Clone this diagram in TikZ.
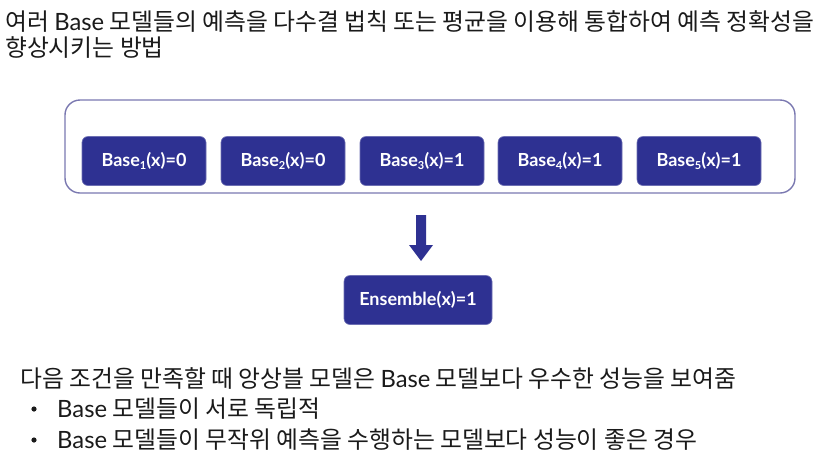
\documentclass[tikz,border=0pt]{standalone}
\usepackage{fontspec}
\setmainfont{Noto Sans CJK KR}
\newfontfamily\lat{Lato}
\definecolor{boxblue}{HTML}{2E3192}
\definecolor{frame}{HTML}{7A78B0}
\definecolor{txt}{HTML}{1A1A1A}
\newcommand{\Bs}{{\lat Base}}
\newcommand{\lsub}[1]{{\fontsize{11}{11}\selectfont\raisebox{-3pt}{#1}}}
\begin{document}
\begin{tikzpicture}[x=1pt,y=-1pt,
  basebox/.style={fill=boxblue,draw=boxblue!70!white,line width=0.6pt,rounded corners=6pt,minimum width=124pt,minimum height=49pt,text=white,font=\lat\bfseries\fontsize{18}{20}\selectfont,inner sep=0pt},
  line/.style={anchor=west,text=txt,inner sep=0pt,font=\fontsize{23.8}{26}\selectfont}]
\useasboundingbox (0,0) rectangle (834,464);
\node[line] (t1) at (5,21) {여러 \Bs{} 모델들의 예측을 다수결 법칙 또는 평균을 이용해 통합하여 예측 정확성을};
\node[line] (t2) at (5,48) {향상시키는 방법};
\draw[frame,line width=1.4pt,rounded corners=15pt] (65,100) rectangle (795,193);
\node[basebox] (b1) at (144,161) {Base\lsub{1}(x)=0};
\node[basebox] (b2) at (283,161) {Base\lsub{2}(x)=0};
\node[basebox] (b3) at (422,161) {Base\lsub{3}(x)=1};
\node[basebox] (b4) at (560,161) {Base\lsub{4}(x)=1};
\node[basebox] (b5) at (699,161) {Base\lsub{5}(x)=1};
\fill[boxblue] (416,215) -- (426,215) -- (426,245) -- (433,245) -- (421,261) -- (409,245) -- (416,245) -- cycle;
\node[basebox,minimum width=148pt] (en) at (418,300) {Ensemble(x)=1};
\node[line] (c0) at (20,378) {다음 조건을 만족할 때 앙상블 모델은 \Bs{} 모델보다 우수한 성능을 보여줌};
\fill[txt] (34,409) circle (2.6pt);
\node[line] (c1) at (57,409) {\Bs{} 모델들이 서로 독립적};
\fill[txt] (34,440) circle (2.6pt);
\node[line] (c2) at (57,440) {\Bs{} 모델들이 무작위 예측을 수행하는 모델보다 성능이 좋은 경우};
\end{tikzpicture}
\end{document}
